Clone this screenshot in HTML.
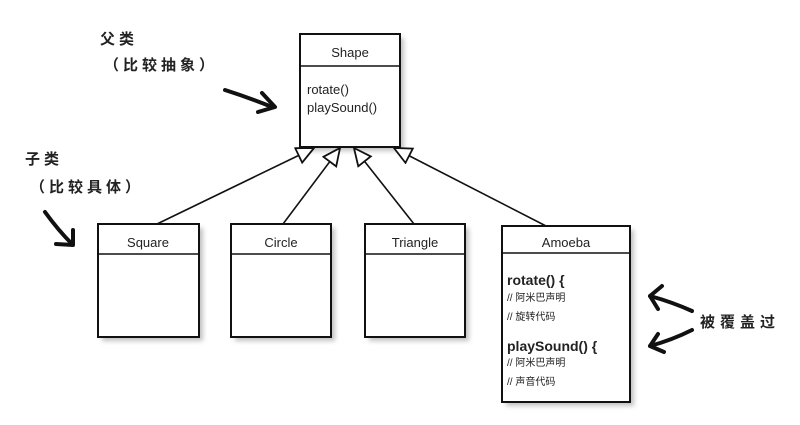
<!DOCTYPE html>
<html><head><meta charset="utf-8"><style>
body{margin:0;background:#fff;width:800px;height:420px;overflow:hidden}
svg text{font-family:"Liberation Sans","Noto Sans CJK SC",sans-serif}
</style></head><body>
<svg width="800" height="420" viewBox="0 0 800 420">
<defs>
<marker id="tri" markerWidth="22" markerHeight="20" refX="18" refY="9" orient="auto" markerUnits="userSpaceOnUse">
<path d="M1,1 L18,9 L1,17 Z" fill="#fff" stroke="#111" stroke-width="1.8"/></marker>
<filter id="sh" x="-10%" y="-10%" width="130%" height="130%"><feGaussianBlur stdDeviation="2.5"/></filter>
</defs>
<rect x="0" y="0" width="800" height="420" fill="#fff"/>
<g fill="#999" opacity="0.6" filter="url(#sh)">
<rect x="304" y="38" width="100" height="113"/>
<rect x="102" y="228" width="101" height="113"/>
<rect x="235" y="228" width="100" height="113"/>
<rect x="369" y="228" width="100" height="113"/>
<rect x="506" y="230" width="128" height="176"/>
</g>
<g stroke="#111" stroke-width="1.6" fill="none">
<line x1="157" y1="224" x2="314" y2="148" marker-end="url(#tri)"/>
<line x1="283" y1="224" x2="340" y2="148" marker-end="url(#tri)"/>
<line x1="414" y1="224" x2="354" y2="148" marker-end="url(#tri)"/>
<line x1="546" y1="226" x2="394" y2="148" marker-end="url(#tri)"/>
</g>
<g fill="#fff" stroke="#111" stroke-width="2">
<rect x="300" y="34" width="100" height="113"/>
<rect x="98" y="224" width="101" height="113"/>
<rect x="231" y="224" width="100" height="113"/>
<rect x="365" y="224" width="100" height="113"/>
<rect x="502" y="226" width="128" height="176"/>
</g>
<g stroke="#111" stroke-width="1.6">
<line x1="300" y1="66" x2="400" y2="66"/>
<line x1="98" y1="254" x2="199" y2="254"/>
<line x1="231" y1="254" x2="331" y2="254"/>
<line x1="365" y1="254" x2="465" y2="254"/>
<line x1="502" y1="253" x2="630" y2="253"/>
</g>
<g font-size="13" fill="#222" text-anchor="middle">
<text x="350" y="57">Shape</text>
<text x="148" y="247">Square</text>
<text x="281" y="247">Circle</text>
<text x="415" y="247">Triangle</text>
<text x="566" y="247">Amoeba</text>
</g>
<g font-size="13" fill="#222">
<text x="307" y="94">rotate()</text>
<text x="307" y="112">playSound()</text>
<text x="507" y="285" font-weight="bold" font-size="14">rotate() {</text>
<text x="507" y="301" font-size="10">// 阿米巴声明</text>
<text x="507" y="320" font-size="10">// 旋转代码</text>
<text x="507" y="351" font-weight="bold" font-size="14">playSound() {</text>
<text x="507" y="366" font-size="10">// 阿米巴声明</text>
<text x="507" y="385" font-size="10">// 声音代码</text>
</g>
<g font-size="15" font-weight="bold" fill="#222" font-family="'Noto Sans CJK SC',sans-serif">
<text x="100" y="44" letter-spacing="4">父类</text>
<text x="104" y="70" letter-spacing="4">（比较抽象）</text>
<text x="25" y="164" letter-spacing="4">子类</text>
<text x="30" y="192" letter-spacing="4">（比较具体）</text>
<text x="700" y="327" letter-spacing="5">被覆盖过</text>
</g>
<g stroke="#111" stroke-width="4" fill="none" stroke-linecap="round" stroke-linejoin="round">
<path d="M225 90 Q250 98 272 107"/><path d="M262 93 L275 107 L258 112"/>
<path d="M45 212 Q58 230 72 244"/><path d="M56 244 L73 245 L73 230"/>
<path d="M692 311 Q672 302 650 296"/><path d="M662 286 L650 296 L658 309"/>
<path d="M692 330 Q672 340 650 346"/><path d="M658 334 L650 346 L664 352"/>
</g>
</svg>
</body></html>
